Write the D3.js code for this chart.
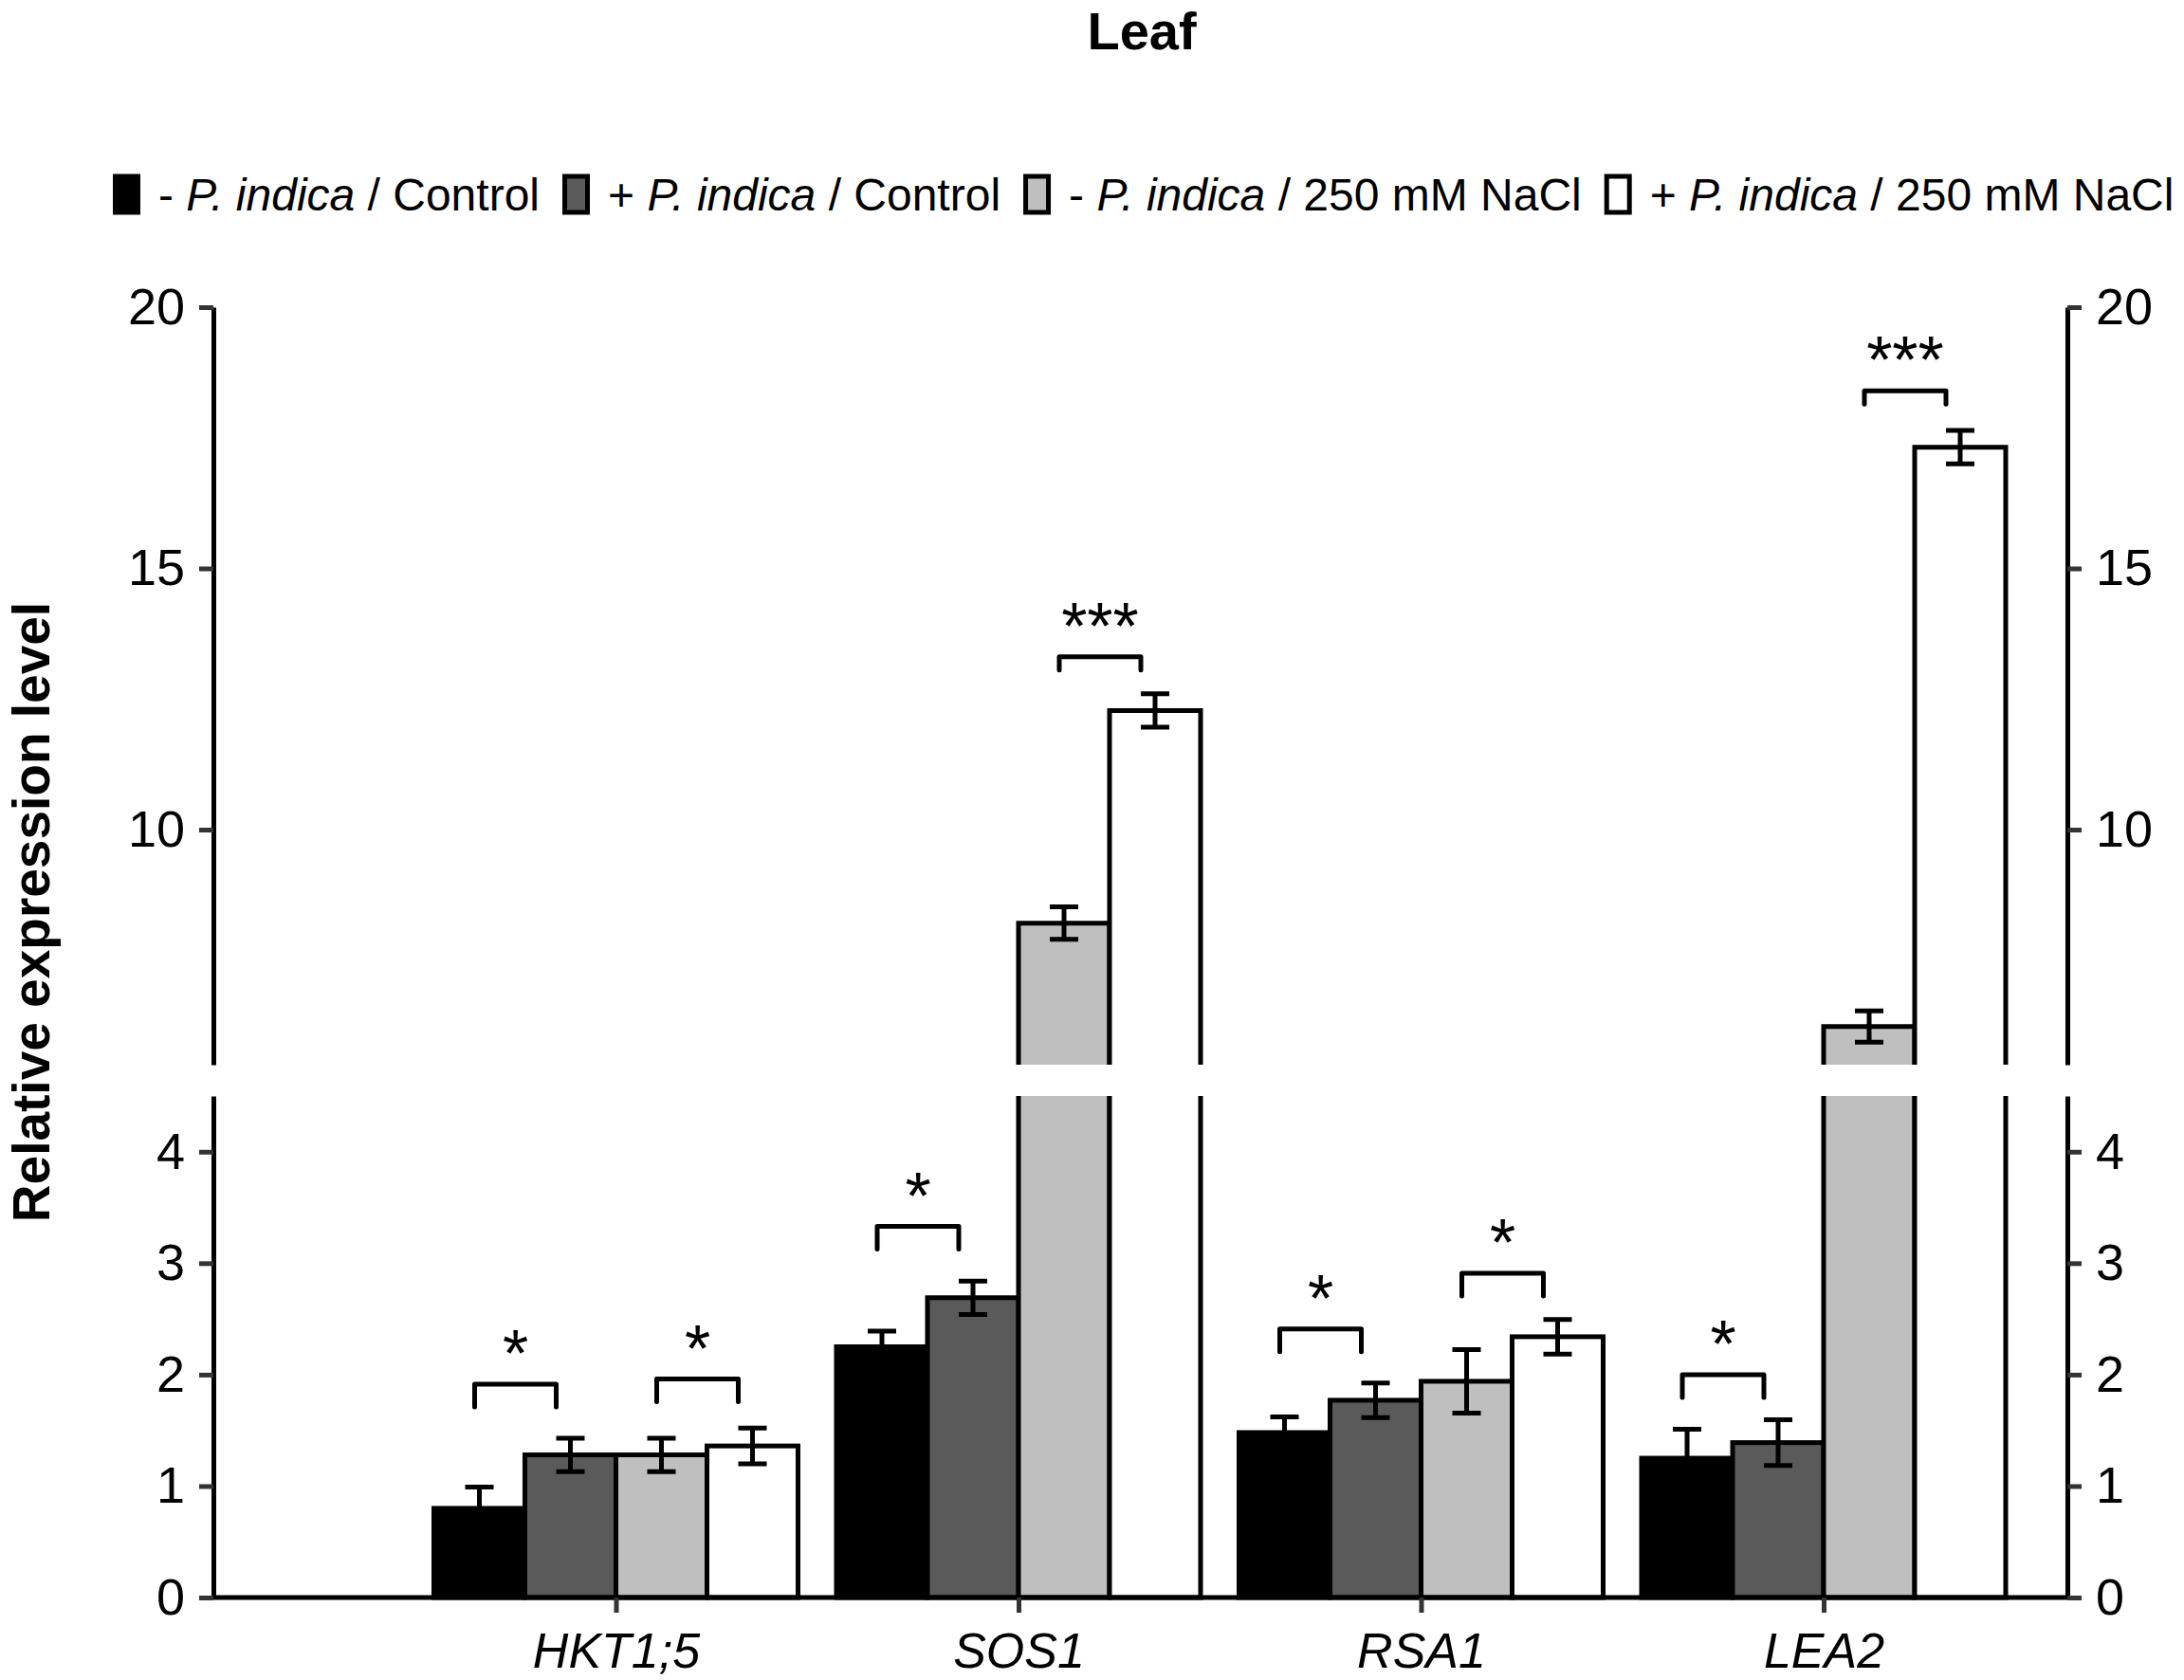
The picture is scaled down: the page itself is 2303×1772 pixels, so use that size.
<!DOCTYPE html>
<html><head><meta charset="utf-8">
<script src="https://cdn.jsdelivr.net/npm/d3@7"></script>
<style>
html,body{margin:0;padding:0;background:#fff;}
svg{display:block;font-family:"Liberation Sans",Arial,Helvetica,sans-serif;}
</style></head>
<body><svg id="chart" width="2303" height="1772"></svg>
<script>
// ---------- data ----------
const title = "Leaf";
const yTitle = "Relative expression level";
const categories = ["HKT1;5", "SOS1", "RSA1", "LEA2"];
const seriesKeys = ["mC", "pC", "mN", "pN"];
const seriesPrefix = ["- ", "+ ", "- ", "+ "];
const seriesSuffix = [" / Control", " / Control", " / 250 mM NaCl", " / 250 mM NaCl"];
const seriesFill = ["#000000", "#5a5a5a", "#bfbfbf", "#ffffff"];
const minusControl = [0.80, 2.25, 1.48, 1.25];
const plusControl  = [1.28, 2.69, 1.77, 1.39];
const minusNaCl    = [1.28, 8.21, 1.94, 6.23];
const plusNaCl     = [1.36, 12.28, 2.34, 17.32];
const errMinusControl = [0.19, 0.14, 0.14, 0.26];
const errPlusControl  = [0.15, 0.15, 0.155, 0.205];
const errMinusNaCl    = [0.15, 0.31, 0.285, 0.30];
const errPlusNaCl     = [0.16, 0.32, 0.155, 0.32];
const lowerTicks = [0, 1, 2, 3, 4];
const upperTicks = [10, 15, 20];
// significance brackets: category index, left series index, bracket height (value), label
const sigCategory = [0, 0, 1, 1, 2, 2, 3, 3];
const sigLeft     = [0, 2, 0, 2, 0, 2, 0, 2];
const sigLevel    = [1.915, 1.96, 3.33, 13.31, 2.41, 2.91, 2.0, 18.4];
const sigLabel    = ["*", "*", "*", "***", "*", "*", "*", "***"];

// ---------- layout ----------
const svg = d3.select("#chart");
const xLeft = 225, xRight = 2180;
const lowerMax = 4.5, upperMin = 5.5, upperMax = 20;
const yLow = d3.scaleLinear().domain([0, lowerMax]).range([1685, 1156]);
const yUp  = d3.scaleLinear().domain([upperMin, upperMax]).range([1123, 324]);
const xCat = d3.scalePoint().domain(["__origin"].concat(categories)).range([xLeft, 1923]);
const xSub = d3.scaleBand().domain(seriesKeys).range([-192, 192]).padding(0);
const bw = xSub.bandwidth();
const means = [minusControl, plusControl, minusNaCl, plusNaCl];
const errs  = [errMinusControl, errPlusControl, errMinusNaCl, errPlusNaCl];
const SW = 5;

const rows = [];
categories.forEach((c, ci) => seriesKeys.forEach((k, si) => {
  rows.push({c, ci, k, si, v: means[si][ci], e: errs[si][ci]});
}));
function yOf(v){ return v <= lowerMax ? yLow(v) : yUp(v); }

// ---------- bars ----------
const gBars = svg.append("g");
rows.forEach(d => {
  const x0 = xCat(d.c) + xSub(d.k), x1 = x0 + bw;
  if (d.v <= lowerMax) {
    gBars.append("rect").attr("x", x0).attr("y", yLow(d.v))
      .attr("width", bw).attr("height", yLow(0) - yLow(d.v))
      .attr("fill", seriesFill[d.si]).attr("stroke", "#000").attr("stroke-width", SW);
  } else {
    const yb = yLow(0), ylt = yLow(lowerMax);
    gBars.append("rect").attr("x", x0).attr("y", ylt).attr("width", bw).attr("height", yb - ylt)
      .attr("fill", seriesFill[d.si]);
    gBars.append("path").attr("d", `M${x0},${ylt}V${yb}H${x1}V${ylt}`)
      .attr("fill", "none").attr("stroke", "#000").attr("stroke-width", SW);
    const yub = yUp(upperMin), yt = yUp(d.v);
    gBars.append("rect").attr("x", x0).attr("y", yt).attr("width", bw).attr("height", yub - yt)
      .attr("fill", seriesFill[d.si]);
    gBars.append("path").attr("d", `M${x0},${yub}V${yt}H${x1}V${yub}`)
      .attr("fill", "none").attr("stroke", "#000").attr("stroke-width", SW);
  }
});

// ---------- error bars ----------
const gErr = svg.append("g").attr("stroke", "#000").attr("stroke-width", SW).attr("fill", "none");
const capW = 30;
rows.forEach(d => {
  const cx = xCat(d.c) + xSub(d.k) + bw / 2;
  const yt = yOf(d.v + d.e), yb = yOf(d.v - d.e);
  gErr.append("path").attr("d",
    `M${cx},${yt}V${yb}M${cx - capW/2},${yt}H${cx + capW/2}M${cx - capW/2},${yb}H${cx + capW/2}`);
});

// ---------- axes ----------
function styleAxis(g){
  g.select(".domain").attr("stroke", "#000").attr("stroke-width", SW);
  g.selectAll(".tick line").attr("stroke", "#333").attr("stroke-width", SW);
  g.selectAll(".tick text").attr("font-size", 54).attr("fill", "#000")
    .attr("font-family", '"Liberation Sans",Arial,sans-serif');
}
const fmt = d3.format("d");
[[yLow, lowerTicks], [yUp, upperTicks]].forEach(([sc, tv]) => {
  svg.append("g").attr("transform", `translate(${xLeft},0)`)
    .call(d3.axisLeft(sc).tickValues(tv).tickFormat(fmt).tickSize(15).tickSizeOuter(0).tickPadding(15))
    .call(styleAxis);
  svg.append("g").attr("transform", `translate(${xRight},0)`)
    .call(d3.axisRight(sc).tickValues(tv).tickFormat(fmt).tickSize(15).tickSizeOuter(0).tickPadding(15))
    .call(styleAxis);
});
// baseline
svg.append("line").attr("x1", xLeft).attr("x2", xRight).attr("y1", yLow(0)).attr("y2", yLow(0))
  .attr("stroke", "#000").attr("stroke-width", SW);
const gx = svg.append("g").attr("transform", `translate(0,${yLow(0)})`)
  .call(d3.axisBottom(xCat).tickValues(categories).tickSize(16).tickSizeOuter(0).tickPadding(14));
gx.select(".domain").remove();
gx.selectAll(".tick line").attr("stroke", "#333").attr("stroke-width", SW);
gx.selectAll(".tick text").attr("font-size", 52).attr("font-style", "italic").attr("fill", "#000")
  .attr("font-family", '"Liberation Sans",Arial,sans-serif').attr("dy", null).attr("y", 74);

// ---------- significance ----------
const gSig = svg.append("g");
sigCategory.forEach((ci, i) => {
  const c = categories[ci];
  const xa = xCat(c) + xSub(seriesKeys[sigLeft[i]]) + bw / 2 - 5;
  const xb = xCat(c) + xSub(seriesKeys[sigLeft[i] + 1]) + bw / 2 - 15;
  const yy = yOf(sigLevel[i]);
  const leg = sigLevel[i] > lowerMax ? 14 : 24;
  gSig.append("path").attr("d", `M${xa},${yy + leg}V${yy}H${xb}V${yy + leg}`)
    .attr("fill", "none").attr("stroke", "#000").attr("stroke-width", SW)
    .attr("stroke-linecap", "round").attr("stroke-linejoin", "round");
  gSig.append("text").attr("x", (xa + xb) / 2).attr("y", yy - 8)
    .attr("text-anchor", "middle").attr("font-size", 70).text(sigLabel[i]);
});

// ---------- titles ----------
svg.append("text").attr("x", 1204).attr("y", 52).attr("text-anchor", "middle")
  .attr("font-size", 56).attr("font-weight", "bold").text(title);
svg.append("text").attr("transform", "translate(52,962) rotate(-90)").attr("text-anchor", "middle")
  .attr("font-size", 55).attr("font-weight", "bold").text(yTitle);

// ---------- legend ----------
const gLeg = svg.append("g");
let lx = 119;
seriesKeys.forEach((k, i) => {
  gLeg.append("rect").attr("x", lx + 2.5).attr("y", 186).attr("width", 24).attr("height", 38)
    .attr("fill", seriesFill[i]).attr("stroke", "#000").attr("stroke-width", SW);
  const t = gLeg.append("text").attr("x", lx + 48).attr("y", 222).attr("font-size", 48);
  t.append("tspan").text(seriesPrefix[i]);
  t.append("tspan").attr("font-style", "italic").text("P. indica");
  t.append("tspan").text(seriesSuffix[i]);
  lx = lx + 48 + t.node().getComputedTextLength() + 24;
});
</script></body></html>
